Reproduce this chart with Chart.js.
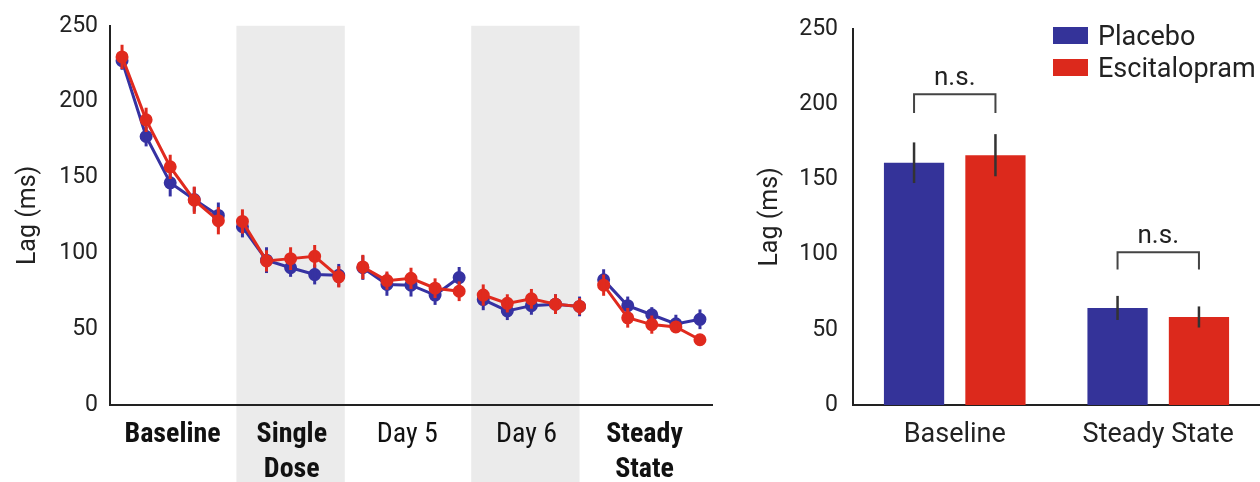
<!DOCTYPE html>
<html>
<head>
<meta charset="utf-8">
<script src="https://cdn.jsdelivr.net/npm/chart.js@4"></script>
<style>
  body { margin: 0; background: #fff; }
  #wrap { position: relative; width: 1260px; height: 482px; }
  #left { position: absolute; left: 0; top: 0; width: 740px; height: 482px; }
  #right { position: absolute; left: 740px; top: 0; width: 520px; height: 482px; }
  .leg { position: absolute; left: 1053px; font: 27px Roboto, sans-serif; color: #222; }
  .leg span { display: inline-block; width: 35px; height: 17px; margin-right: 10px; vertical-align: middle; position: relative; top: -2px; }
</style>
</head>
<body>
<div id="wrap">
  <div id="left"><canvas id="lineChart"></canvas></div>
  <div id="right"><canvas id="barChart"></canvas></div>
  <div class="leg" style="top:20px"><span style="background:#343399"></span>Placebo</div>
  <div class="leg" style="top:52px"><span style="background:#dc291c"></span>Escitalopram</div>
</div>
<script>
// session groups, 5 points each
const groupLabels = ["Baseline", ["Single", "Dose"], "Day 5", "Day 6", ["Steady", "State"]];
const groupBold = [true, true, false, false, true];
const groupLabelPos = [2.1, 7.05, 11.85, 16.8, 21.7];
const bandRanges = [[4.75, 9.25], [14.5, 19]];

const placeboMeans = [227, 177, 146.5, 135.5, 125, 117.5, 95.5, 90.5, 86, 85.5, 90.5, 79.5, 79, 72.5, 84, 69.5, 62, 65.5, 66.5, 65, 82.5, 65.5, 59.5, 53.5, 56.5];
const placeboErr = [6, 6.5, 9, 8, 8.5, 7, 8.5, 6, 6.5, 7.5, 8, 7.5, 7.5, 6.5, 7, 7, 6, 6, 6.5, 6.5, 7, 6, 5, 6, 6.5];
const escMeans = [229.5, 188, 157, 135, 121.5, 121, 95, 96.5, 98, 84.5, 91, 82, 83.5, 77, 75, 72.5, 67, 70, 66.5, 65, 79, 57.5, 53, 51.5, 43];
const escErr = [8, 8, 8, 9, 9, 8, 7, 7.5, 7.5, 7, 8, 6, 7, 6.5, 6.5, 7, 6, 6.5, 6.5, 5.5, 7, 6.5, 6, 4, 0];

const barGroups = ["Baseline", "Steady State"];
const barPlacebo = [161, 64.5];
const barEsc = [166, 58.5];
const barPlaceboErr = [13.5, 8];
const barEscErr = [14, 7];
const bracketTop = [206.5, 101.5];
const bracketEnd = [194, 90];

const blue = "#3632a2";
const red = "#e02a1e";
const axisColor = "#222";
const narrowFont = "'Roboto Condensed', 'Liberation Sans Narrow', 'DejaVu Sans Condensed', 'Arial Narrow', Roboto, sans-serif";

function toPoints(vals) {
  return vals.map((v, i) => ({ x: i, y: v }));
}

// grey session bands, drawn before the axes so the labels sit on top
const bandPlugin = {
  id: "bands",
  beforeDraw(chart) {
    const { ctx, chartArea, scales } = chart;
    ctx.save();
    ctx.fillStyle = "#ebebeb";
    bandRanges.forEach(([a, b]) => {
      const x0 = scales.x.getPixelForValue(a);
      const x1 = scales.x.getPixelForValue(b);
      ctx.fillRect(x0, chartArea.top, x1 - x0, chart.height - chartArea.top);
    });
    ctx.restore();
  }
};

const lineErrPlugin = {
  id: "lineErr",
  afterDatasetDraw(chart, args) {
    const ds = chart.data.datasets[args.index];
    const { ctx, scales } = chart;
    ctx.save();
    ctx.strokeStyle = ds.borderColor;
    ctx.lineWidth = 3;
    ds.data.forEach((p, i) => {
      const e = ds.errors[i];
      if (!e) return;
      const x = scales.x.getPixelForValue(p.x);
      ctx.beginPath();
      ctx.moveTo(x, scales.y.getPixelForValue(p.y - e));
      ctx.lineTo(x, scales.y.getPixelForValue(p.y + e));
      ctx.stroke();
    });
    ctx.restore();
  }
};

function lineSet(label, vals, errs, color, order) {
  return {
    label: label,
    data: toPoints(vals),
    errors: errs,
    borderColor: color,
    backgroundColor: color,
    borderWidth: 3,
    pointRadius: 5,
    pointHoverRadius: 5,
    order: order,
    segment: {
      // no line between sessions
      borderColor: (c) => (c.p0DataIndex % 5 === 4 ? "rgba(0,0,0,0)" : color)
    }
  };
}

new Chart(document.getElementById("lineChart"), {
  type: "line",
  data: {
    datasets: [
      lineSet("Placebo", placeboMeans, placeboErr, blue, 2),
      lineSet("Escitalopram", escMeans, escErr, red, 1)
    ]
  },
  options: {
    responsive: true,
    maintainAspectRatio: false,
    animation: false,
    layout: { padding: { top: 24, right: 28, left: 0, bottom: 0 } },
    plugins: { legend: { display: false }, tooltip: { enabled: false } },
    scales: {
      x: {
        type: "linear",
        min: -0.5,
        max: 24.5,
        afterBuildTicks: (scale) => {
          scale.ticks = groupLabelPos.map((v) => ({ value: v }));
        },
        afterFit: (scale) => { scale.height = 77; },
        grid: { display: false, drawTicks: false },
        border: { color: axisColor, width: 2 },
        ticks: {
          autoSkip: false,
          maxRotation: 0,
          padding: 12,
          color: "#111",
          callback: (v, i) => groupLabels[i],
          font: (c) => ({
            family: narrowFont,
            size: 28,
            weight: groupBold[c.index] ? "bold" : "normal",
            lineHeight: 1.25
          })
        }
      },
      y: {
        min: 0,
        max: 250,
        afterFit: (scale) => { scale.width = 110; },
        grid: { display: false, drawTicks: false },
        border: { color: axisColor, width: 2 },
        ticks: {
          stepSize: 50,
          padding: 12,
          color: axisColor,
          font: { family: "Roboto", size: 23 }
        },
        title: {
          display: true,
          text: "Lag (ms)",
          color: axisColor,
          font: { family: "Roboto", size: 25 },
          padding: { top: 14, bottom: 0 }
        }
      }
    }
  },
  plugins: [bandPlugin, lineErrPlugin]
});

const barExtras = {
  id: "barExtras",
  afterDatasetsDraw(chart) {
    const { ctx, scales } = chart;
    const y = scales.y;
    const errs = [barPlaceboErr, barEscErr];
    ctx.save();
    ctx.strokeStyle = "#333";
    ctx.lineWidth = 2.5;
    chart.data.datasets.forEach((ds, d) => {
      chart.getDatasetMeta(d).data.forEach((bar, i) => {
        const v = ds.data[i];
        ctx.beginPath();
        ctx.moveTo(bar.x, y.getPixelForValue(v - errs[d][i]));
        ctx.lineTo(bar.x, y.getPixelForValue(v + errs[d][i]));
        ctx.stroke();
      });
    });
    // significance brackets
    ctx.strokeStyle = "#444";
    ctx.lineWidth = 2;
    ctx.fillStyle = "#222";
    ctx.font = "26px Roboto";
    ctx.textAlign = "center";
    ctx.textBaseline = "bottom";
    barGroups.forEach((g, i) => {
      const xa = chart.getDatasetMeta(0).data[i].x;
      const xb = chart.getDatasetMeta(1).data[i].x;
      const yt = y.getPixelForValue(bracketTop[i]);
      const ye = y.getPixelForValue(bracketEnd[i]);
      ctx.beginPath();
      ctx.moveTo(xa, ye);
      ctx.lineTo(xa, yt);
      ctx.lineTo(xb, yt);
      ctx.lineTo(xb, ye);
      ctx.stroke();
      ctx.fillText("n.s.", (xa + xb) / 2, yt - 3);
    });
    ctx.restore();
  }
};

new Chart(document.getElementById("barChart"), {
  type: "bar",
  data: {
    labels: barGroups,
    datasets: [
      { label: "Placebo", data: barPlacebo, backgroundColor: "#343399", categoryPercentage: 0.8, barPercentage: 0.74 },
      { label: "Escitalopram", data: barEsc, backgroundColor: "#dc291c", categoryPercentage: 0.8, barPercentage: 0.74 }
    ]
  },
  options: {
    responsive: true,
    maintainAspectRatio: false,
    animation: false,
    layout: { padding: { top: 24, right: 0, left: 0, bottom: 0 } },
    plugins: { legend: { display: false }, tooltip: { enabled: false } },
    scales: {
      x: {
        afterFit: (scale) => { scale.height = 77; },
        grid: { display: false, drawTicks: false },
        border: { color: axisColor, width: 2 },
        ticks: {
          padding: 14,
          color: axisColor,
          font: { family: "Roboto", size: 27 }
        }
      },
      y: {
        min: 0,
        max: 250,
        afterFit: (scale) => { scale.width = 113; },
        grid: { display: false, drawTicks: false },
        border: { color: axisColor, width: 2 },
        ticks: {
          stepSize: 50,
          padding: 15,
          color: axisColor,
          font: { family: "Roboto", size: 23 }
        },
        title: {
          display: true,
          text: "Lag (ms)",
          color: axisColor,
          font: { family: "Roboto", size: 25 },
          padding: { top: 16, bottom: 0 }
        }
      }
    }
  },
  plugins: [barExtras]
});
</script>
</body>
</html>
